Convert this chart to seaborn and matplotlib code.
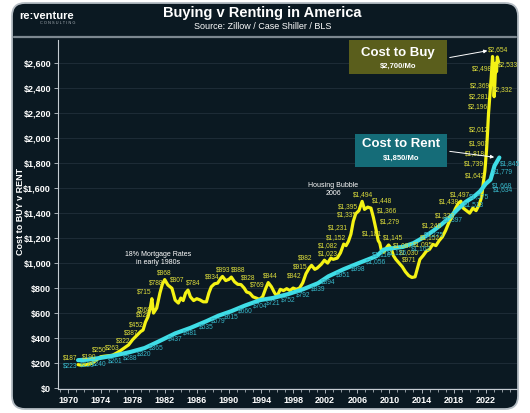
import matplotlib
matplotlib.use("Agg")
import matplotlib.pyplot as plt
import seaborn as sns
from matplotlib.patches import FancyBboxPatch, Rectangle
from matplotlib.ticker import FuncFormatter, MultipleLocator

# --------------------------------------------------
# Data ($ per month)
# --------------------------------------------------

buy_years = [1971.2, 1971.6, 1972.0, 1972.5, 1973.0, 1973.5, 1974.0, 1974.5, 1975.0, 1975.5,
             1976.0, 1976.5, 1977.0, 1977.5, 1978.0, 1978.5, 1979.0, 1979.3, 1979.6, 1979.9,
             1980.2, 1980.4, 1980.6, 1981.0, 1981.4, 1981.7, 1982.0, 1982.4, 1982.9, 1983.3,
             1983.7, 1984.0, 1984.3, 1984.6, 1984.9, 1985.2, 1985.6, 1986.0, 1986.4, 1986.8,
             1987.2, 1987.5, 1987.8, 1988.2, 1988.6, 1989.0, 1989.2, 1989.6, 1990.0, 1990.3,
             1990.7, 1991.1, 1991.5, 1991.9, 1992.2, 1992.6, 1993.0, 1993.4, 1993.8, 1994.2,
             1994.6, 1994.9, 1995.3, 1995.7, 1996.0, 1996.4, 1996.8, 1997.2, 1997.6, 1998.0,
             1998.4, 1998.8, 1999.2, 1999.6, 2000.0, 2000.3, 2000.7, 2001.0, 2001.5, 2001.9,
             2002.3, 2002.7, 2003.0, 2003.5, 2003.9, 2004.3, 2004.6, 2004.9, 2005.2, 2005.5,
             2005.8, 2006.2, 2006.6, 2006.9, 2007.3, 2007.7, 2008.0, 2008.3, 2008.6, 2008.8,
             2009.0, 2009.3, 2009.6, 2009.9, 2010.2, 2010.5, 2010.8, 2011.2, 2011.6, 2012.0,
             2012.4, 2012.8, 2013.2, 2013.5, 2013.8, 2014.2, 2014.6, 2015.0, 2015.4, 2015.8,
             2016.2, 2016.6, 2017.0, 2017.4, 2017.8, 2018.2, 2018.6, 2018.9, 2019.2, 2019.6,
             2020.0, 2020.4, 2020.8, 2021.2, 2021.5, 2021.7, 2021.9, 2022.0, 2022.1, 2022.2,
             2022.35, 2022.45, 2022.55, 2022.7, 2022.85, 2022.95, 2023.05, 2023.15, 2023.25,
             2023.35, 2023.45, 2023.6]
buy_vals = [187, 182, 185, 190, 200, 225, 250, 255, 258, 263,
            280, 300, 322, 345, 387, 420, 452, 464, 528, 568,
            640, 715, 600, 640, 760, 830, 868, 824, 798, 704,
            680, 720, 700, 760, 784, 730, 700, 715, 705, 690,
            690, 760, 810, 834, 840, 880, 893, 860, 870, 888,
            850, 830, 828, 800, 769, 760, 730, 720, 710, 730,
            800, 844, 810, 760, 735, 790, 780, 795, 780, 800,
            790, 800, 842, 915, 960, 982, 950, 960, 990, 1023,
            1000, 1040, 1030, 1040, 1082, 1152, 1140, 1175, 1231, 1335,
            1395, 1420, 1494, 1430, 1448, 1440, 1366, 1279, 1181, 1160,
            1100, 1087, 1120, 1145, 1120, 1060, 1030, 1000, 971, 930,
            900, 885, 890, 960, 1030, 1060, 1095, 1110, 1150, 1140,
            1180, 1210, 1260, 1323, 1370, 1433, 1480, 1495, 1440, 1420,
            1400, 1440, 1420, 1470, 1530, 1642, 1739, 1818, 1903, 2012,
            2196, 2281, 2369, 2498, 2654, 2560, 2332, 2450, 2600,
            2533, 2650, 2610]

rent_years = [1971.2, 1972.3, 1973.9, 1975.8, 1977.7, 1979.5, 1981.0, 1983.3, 1985.2, 1987.2,
              1988.7, 1990.3, 1992.0, 1993.9, 1995.5, 1997.4, 1999.3, 2001.1, 2002.4, 2004.3,
              2006.1, 2008.4, 2009.3, 2010.5, 2011.7, 2013.0, 2014.5, 2015.5, 2016.5, 2017.5,
              2018.5, 2019.5, 2020.5, 2021.3, 2022.0, 2022.6, 2023.1, 2023.7]
rent_vals = [223, 226, 240, 261, 288, 320, 365, 437, 481, 535,
             579, 615, 660, 704, 721, 752, 792, 839, 894, 951,
             998, 1056, 1108, 1120, 1130, 1160, 1215, 1260, 1310, 1365,
             1430, 1490, 1530, 1575, 1634, 1668, 1779, 1845]

# data labels as they sit on the chart (label year, labelled value)
buy_label_years = [1970.2, 1972.6, 1973.8, 1975.5, 1976.8, 1977.8, 1978.4, 1979.3, 1979.5, 1979.5,
                   1980.9, 1981.9, 1983.6, 1985.6, 1987.9, 1989.3, 1991.2, 1992.4, 1993.5, 1995.1,
                   1998.2, 1998.9, 1999.5, 2002.4, 2002.4, 2003.4, 2003.6, 2004.7, 2004.9, 2006.7,
                   2009.1, 2009.7, 2010.1, 2007.8, 2010.5, 2011.7, 2012.4, 2012.5, 2014.2, 2015.1,
                   2015.3, 2016.9, 2017.4, 2018.8, 2020.7, 2020.5, 2020.7, 2021.1, 2021.1, 2021.1,
                   2021.2, 2021.3, 2021.5, 2023.6, 2024.8, 2024.2]
buy_label_vals = [187, 190, 250, 263, 322, 387, 452, 528, 568, 715,
                  788, 868, 807, 784, 834, 893, 888, 828, 769, 844,
                  842, 915, 982, 1023, 1082, 1152, 1231, 1335, 1395, 1494,
                  1448, 1366, 1279, 1181, 1145, 1087, 1030, 971, 1095, 1152,
                  1248, 1323, 1438, 1497, 1642, 1739, 1818, 1903, 2012, 2196,
                  2281, 2369, 2498, 2654, 2533, 2332]

rent_label_years = [1970.2, 1972.3, 1973.9, 1975.8, 1977.7, 1979.5, 1981.0, 1983.3, 1985.2, 1987.2,
                    1988.7, 1990.3, 1992.0, 1993.9, 1995.5, 1997.4, 1999.3, 2001.1, 2002.4, 2004.3,
                    2006.1, 2008.4, 2009.1, 2011.0, 2014.0, 2015.5, 2017.9, 2020.6, 2021.2, 2024.2,
                    2024.0, 2024.2, 2025.0]
rent_label_vals = [223, 226, 240, 261, 288, 320, 365, 437, 481, 535,
                   579, 615, 660, 704, 721, 752, 792, 839, 894, 951,
                   998, 1056, 1116, 1126, 1162, 1275, 1397, 1513, 1575, 1634,
                   1668, 1779, 1845]

x_ticks = list(range(1970, 2023, 4))
y_ticks = list(range(0, 2601, 200))

# --------------------------------------------------
# Style
# --------------------------------------------------

BG = "#0b1922"
YELLOW = "#f4f214"
CYAN = "#3fdde6"
YELLOW_TXT = "#dcdc3c"
CYAN_TXT = "#38b6c8"
AXIS = "#c5ccd2"

sns.set_style("dark")
plt.rcParams["font.family"] = ["Liberation Sans", "DejaVu Sans"]

fig = plt.figure(figsize=(5.3, 4.13), dpi=100)
fig.patch.set_facecolor("white")

# rounded dark panel behind everything
panel = FancyBboxPatch((0.12, 0.04), 5.06, 4.06,
                       boxstyle="round,pad=0,rounding_size=0.13",
                       transform=fig.dpi_scale_trans,
                       facecolor=BG, edgecolor="#b4bcc3", lw=1.3, zorder=0)
fig.add_artist(panel)
fig.add_artist(plt.Line2D([14 / 530, 516 / 530], [376 / 413, 376 / 413],
                          transform=fig.transFigure, color="#7d8890", lw=1.6))

# header
fig.text(0.495, 0.968, "Buying v Renting in America", ha="center", va="center",
         color="white", fontsize=10.5, fontweight="bold")
fig.text(0.495, 0.937, "Source: Zillow / Case Shiller / BLS", ha="center", va="center",
         color="white", fontsize=6.5)
fig.text(0.037, 0.962, "re:venture", ha="left", va="center",
         color="white", fontsize=8, fontweight="bold")
fig.text(0.142, 0.944, "C O N S U L T I N G", ha="right", va="center",
         color="#aab3ba", fontsize=2.8)

# --------------------------------------------------
# Chart
# --------------------------------------------------

ax = fig.add_axes([58 / 530, 24 / 413, 459 / 530, 349 / 413])
ax.set_facecolor(BG)

sns.lineplot(x=buy_years, y=buy_vals, ax=ax, color=YELLOW, linewidth=2.3, sort=False, zorder=3)
sns.lineplot(x=rent_years, y=rent_vals, ax=ax, color=CYAN, linewidth=3.0, sort=False, zorder=4)

ax.set_xlim(1968.7, 2025.9)
ax.set_ylim(-8, 2786)

ax.set_xticks(x_ticks)
ax.xaxis.set_minor_locator(MultipleLocator(1))
ax.set_yticks(y_ticks)
ax.yaxis.set_major_formatter(FuncFormatter(lambda v, p: f"${int(v):,}"))
ax.tick_params(axis="both", colors=AXIS, labelcolor="white", labelsize=6.5, length=3, width=0.6)
ax.tick_params(axis="x", which="minor", colors=AXIS, length=2, width=0.5, bottom=True)
ax.tick_params(axis="x", pad=2, bottom=True)
ax.tick_params(axis="y", pad=2, left=True)
for lab in ax.get_xticklabels() + ax.get_yticklabels():
    lab.set_fontweight("bold")

ax.grid(axis="y", color="#1e2c37", linewidth=0.7)
ax.grid(axis="x", visible=False)
for side in ["top", "right"]:
    ax.spines[side].set_visible(False)
for side in ["left", "bottom"]:
    ax.spines[side].set_color(AXIS)
    ax.spines[side].set_linewidth(0.8)
ax.set_xlabel("")
ax.set_ylabel("")

fig.text(0.038, 0.487, "Cost to BUY v RENT", rotation=90, ha="center", va="center",
         color="white", fontsize=6.5, fontweight="bold")

# data labels
for yr, v in zip(buy_label_years, buy_label_vals):
    ax.annotate(f"${v:,}", xy=(yr, v), xytext=(0, 5), textcoords="offset points",
                ha="center", va="center", color=YELLOW_TXT, fontsize=4.8, zorder=5)
for yr, v in zip(rent_label_years, rent_label_vals):
    ax.annotate(f"${v:,}", xy=(yr, v), xytext=(0, -4), textcoords="offset points",
                ha="center", va="center", color=CYAN_TXT, fontsize=4.8, zorder=5)

# notes
ax.text(1981.2, 1040, "18% Mortgage Rates\nin early 1980s", ha="center", va="center",
        color="white", fontsize=5, linespacing=1.2)
ax.text(2003.0, 1590, "Housing Bubble\n2006", ha="center", va="center",
        color="white", fontsize=5, linespacing=1.2)

# callout boxes
ax.add_patch(Rectangle((291 / 459, 315 / 349), 98 / 459, 34 / 349, transform=ax.transAxes,
                       facecolor="#5a5e1c", edgecolor="none", zorder=6, clip_on=False))
ax.text(340 / 459, 336 / 349, "Cost to Buy", transform=ax.transAxes, ha="center", va="center",
        color="white", fontsize=9.5, fontweight="bold", zorder=7)
ax.text(340 / 459, 323 / 349, "$2,700/Mo", transform=ax.transAxes, ha="center", va="center",
        color="white", fontsize=5.5, fontweight="bold", zorder=7)

ax.add_patch(Rectangle((297 / 459, 222 / 349), 92 / 459, 33 / 349, transform=ax.transAxes,
                       facecolor="#156c78", edgecolor="none", zorder=6))
ax.text(343 / 459, 245 / 349, "Cost to Rent", transform=ax.transAxes, ha="center", va="center",
        color="white", fontsize=9.5, fontweight="bold", zorder=7)
ax.text(343 / 459, 231 / 349, "$1,850/Mo", transform=ax.transAxes, ha="center", va="center",
        color="white", fontsize=5.5, fontweight="bold", zorder=7)

# arrows from boxes to the latest values
peak_i = buy_vals.index(max(buy_vals))
ax.annotate("", xy=(buy_years[peak_i] - 0.3, buy_vals[peak_i] + 50),
            xytext=(389 / 459, 331 / 349), textcoords=ax.transAxes,
            arrowprops=dict(arrowstyle="-|>", color="white", lw=0.7, mutation_scale=5), zorder=8)
ax.annotate("", xy=(rent_years[-1] - 0.3, rent_vals[-1]),
            xytext=(389 / 459, 238 / 349), textcoords=ax.transAxes,
            arrowprops=dict(arrowstyle="-|>", color="white", lw=0.7, mutation_scale=5), zorder=8)

fig.savefig("out.png", dpi=100, facecolor=fig.get_facecolor())
